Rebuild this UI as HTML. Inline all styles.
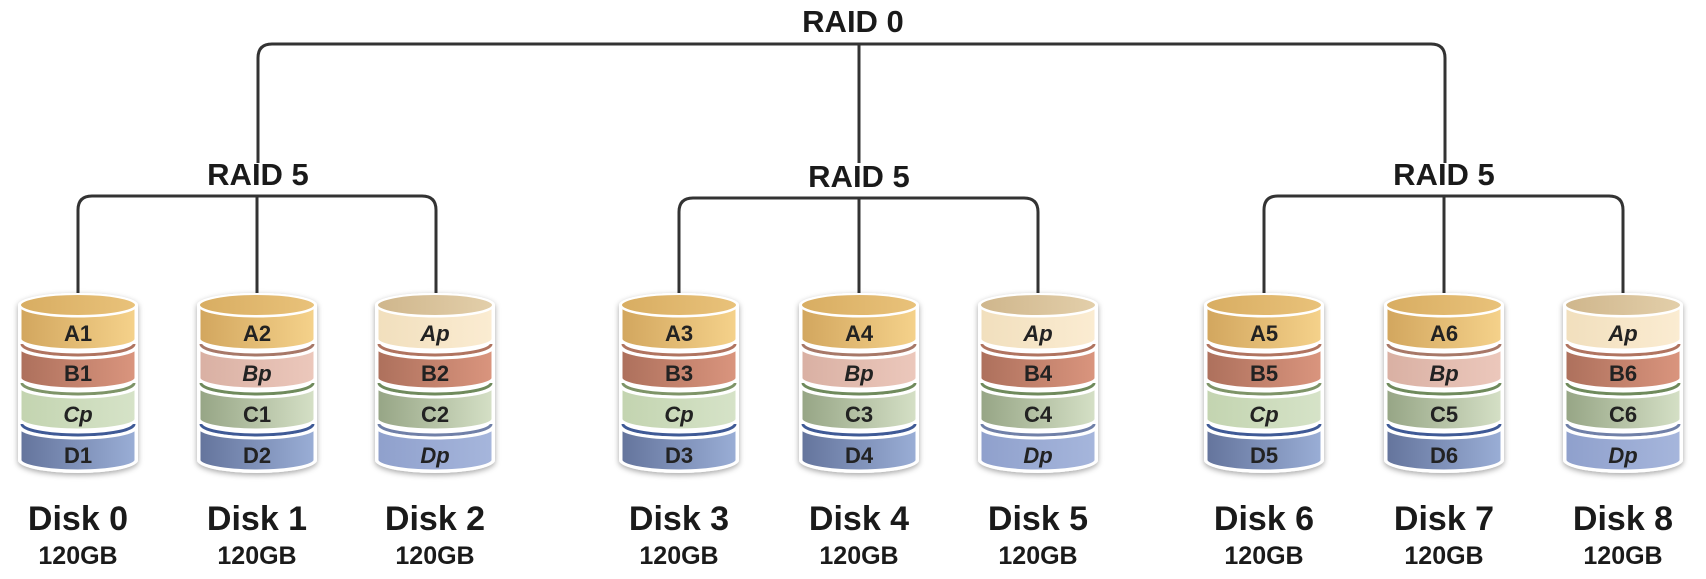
<!DOCTYPE html>
<html><head><meta charset="utf-8"><style>
html,body{margin:0;padding:0;background:#fff;}
svg{display:block;font-family:"Liberation Sans",sans-serif;}
</style></head><body>
<svg width="1706" height="579" viewBox="0 0 1706 579" xmlns="http://www.w3.org/2000/svg">
<defs>
<linearGradient id="gA" x1="0" x2="1"><stop offset="0" stop-color="#d2a65e"/><stop offset="1" stop-color="#f5d28b"/></linearGradient>
<linearGradient id="gAp" x1="0" x2="1"><stop offset="0" stop-color="#f1dfbd"/><stop offset="1" stop-color="#fbecd2"/></linearGradient>
<linearGradient id="gB" x1="0" x2="1"><stop offset="0" stop-color="#ad705c"/><stop offset="1" stop-color="#da957e"/></linearGradient>
<linearGradient id="gBp" x1="0" x2="1"><stop offset="0" stop-color="#d9b0a3"/><stop offset="1" stop-color="#ecc8bc"/></linearGradient>
<linearGradient id="gC" x1="0" x2="1"><stop offset="0" stop-color="#96a585"/><stop offset="1" stop-color="#d5e0c6"/></linearGradient>
<linearGradient id="gCp" x1="0" x2="1"><stop offset="0" stop-color="#c3d4b0"/><stop offset="1" stop-color="#d6e3c8"/></linearGradient>
<linearGradient id="gD" x1="0" x2="1"><stop offset="0" stop-color="#64749c"/><stop offset="1" stop-color="#9aaed6"/></linearGradient>
<linearGradient id="gDp" x1="0" x2="1"><stop offset="0" stop-color="#8fa0cc"/><stop offset="1" stop-color="#a6b6dc"/></linearGradient>
<linearGradient id="gTop" x1="0" x2="1"><stop offset="0" stop-color="#d8ad62"/><stop offset="1" stop-color="#e9c27a"/></linearGradient>
<linearGradient id="gTopP" x1="0" x2="1"><stop offset="0" stop-color="#cfb68c"/><stop offset="1" stop-color="#e3cfaa"/></linearGradient>
<filter id="sh" x="-20%" y="-20%" width="140%" height="140%"><feDropShadow dx="0" dy="2" stdDeviation="3" flood-color="#000" flood-opacity="0.35"/></filter>
<path id="L1" d="M-58,305 A58,11 0 0 0 58,305 L58,339 A58,11 0 0 1 -58,339 Z"/>
<path id="L2" d="M-58,347 A58,11 0 0 0 58,347 L58,378 A58,11 0 0 1 -58,378 Z"/>
<path id="L3" d="M-58,386 A58,11 0 0 0 58,386 L58,419 A58,11 0 0 1 -58,419 Z"/>
<path id="L4" d="M-58,427 A58,11 0 0 0 58,427 L58,460 A58,11 0 0 1 -58,460 Z"/>
<path id="S2" d="M-56,344 A56,11 0 0 0 56,344" fill="none"/>
<path id="S3" d="M-56,383 A56,11 0 0 0 56,383" fill="none"/>
<path id="S4" d="M-56,424 A56,11 0 0 0 56,424" fill="none"/>
<path id="BODY" d="M-60,305 A60,12 0 0 1 60,305 L60,460 A60,13 0 0 1 -60,460 Z" fill="#fff"/>
<ellipse id="TOP" cx="0" cy="305" rx="58" ry="11"/>
<g id="shell"><use href="#BODY" filter="url(#sh)"/></g>
</defs>

<g fill="none" stroke="#333" stroke-width="3">
<path d="M258,163 V58 Q258,44 272,44 H1431 Q1445,44 1445,58 V163"/>
<path d="M859,44 V163"/>
<path d="M78,300 V210 Q78,196 92,196 H422 Q436,196 436,210 V300"/>
<path d="M257,196 V300"/>
<path d="M679,300 V212 Q679,198 693,198 H1024 Q1038,198 1038,212 V300"/>
<path d="M859,198 V300"/>
<path d="M1264,300 V210 Q1264,196 1278,196 H1609 Q1623,196 1623,210 V300"/>
<path d="M1444,196 V300"/>
</g>

<g font-weight="bold" fill="#1a1a1a" text-anchor="middle">
<text x="853" y="32" font-size="31">RAID 0</text>
<text x="258" y="185" font-size="31">RAID 5</text>
<text x="859" y="187" font-size="31">RAID 5</text>
<text x="1444" y="185" font-size="31">RAID 5</text>
</g>

<g transform="translate(78,0)">
<use href="#shell"/>
<use href="#S2" stroke="#b07460" stroke-width="3"/><use href="#S3" stroke="#7e9468" stroke-width="3"/><use href="#S4" stroke="#3f5a96" stroke-width="3"/>
<use href="#L4" fill="url(#gD)" stroke="#fff" stroke-width="3"/>
<use href="#L3" fill="url(#gCp)" stroke="#fff" stroke-width="3"/>
<use href="#L2" fill="url(#gB)" stroke="#fff" stroke-width="3"/>
<use href="#L1" fill="url(#gA)" stroke="#fff" stroke-width="3"/>
<use href="#TOP" fill="url(#gTop)" stroke="#fff" stroke-width="2"/>
</g>
<g transform="translate(679,0)">
<use href="#shell"/>
<use href="#S2" stroke="#b07460" stroke-width="3"/><use href="#S3" stroke="#7e9468" stroke-width="3"/><use href="#S4" stroke="#3f5a96" stroke-width="3"/>
<use href="#L4" fill="url(#gD)" stroke="#fff" stroke-width="3"/>
<use href="#L3" fill="url(#gCp)" stroke="#fff" stroke-width="3"/>
<use href="#L2" fill="url(#gB)" stroke="#fff" stroke-width="3"/>
<use href="#L1" fill="url(#gA)" stroke="#fff" stroke-width="3"/>
<use href="#TOP" fill="url(#gTop)" stroke="#fff" stroke-width="2"/>
</g>
<g transform="translate(1264,0)">
<use href="#shell"/>
<use href="#S2" stroke="#b07460" stroke-width="3"/><use href="#S3" stroke="#7e9468" stroke-width="3"/><use href="#S4" stroke="#3f5a96" stroke-width="3"/>
<use href="#L4" fill="url(#gD)" stroke="#fff" stroke-width="3"/>
<use href="#L3" fill="url(#gCp)" stroke="#fff" stroke-width="3"/>
<use href="#L2" fill="url(#gB)" stroke="#fff" stroke-width="3"/>
<use href="#L1" fill="url(#gA)" stroke="#fff" stroke-width="3"/>
<use href="#TOP" fill="url(#gTop)" stroke="#fff" stroke-width="2"/>
</g>

<g transform="translate(257,0)">
<use href="#shell"/>
<use href="#S2" stroke="#a77868" stroke-width="3"/><use href="#S3" stroke="#6f8a5c" stroke-width="3"/><use href="#S4" stroke="#3f5a96" stroke-width="3"/>
<use href="#L4" fill="url(#gD)" stroke="#fff" stroke-width="3"/>
<use href="#L3" fill="url(#gC)" stroke="#fff" stroke-width="3"/>
<use href="#L2" fill="url(#gBp)" stroke="#fff" stroke-width="3"/>
<use href="#L1" fill="url(#gA)" stroke="#fff" stroke-width="3"/>
<use href="#TOP" fill="url(#gTop)" stroke="#fff" stroke-width="2"/>
</g>
<g transform="translate(859,0)">
<use href="#shell"/>
<use href="#S2" stroke="#a77868" stroke-width="3"/><use href="#S3" stroke="#6f8a5c" stroke-width="3"/><use href="#S4" stroke="#3f5a96" stroke-width="3"/>
<use href="#L4" fill="url(#gD)" stroke="#fff" stroke-width="3"/>
<use href="#L3" fill="url(#gC)" stroke="#fff" stroke-width="3"/>
<use href="#L2" fill="url(#gBp)" stroke="#fff" stroke-width="3"/>
<use href="#L1" fill="url(#gA)" stroke="#fff" stroke-width="3"/>
<use href="#TOP" fill="url(#gTop)" stroke="#fff" stroke-width="2"/>
</g>
<g transform="translate(1444,0)">
<use href="#shell"/>
<use href="#S2" stroke="#a77868" stroke-width="3"/><use href="#S3" stroke="#6f8a5c" stroke-width="3"/><use href="#S4" stroke="#3f5a96" stroke-width="3"/>
<use href="#L4" fill="url(#gD)" stroke="#fff" stroke-width="3"/>
<use href="#L3" fill="url(#gC)" stroke="#fff" stroke-width="3"/>
<use href="#L2" fill="url(#gBp)" stroke="#fff" stroke-width="3"/>
<use href="#L1" fill="url(#gA)" stroke="#fff" stroke-width="3"/>
<use href="#TOP" fill="url(#gTop)" stroke="#fff" stroke-width="2"/>
</g>

<g transform="translate(435,0)">
<use href="#shell"/>
<use href="#S2" stroke="#b07460" stroke-width="3"/><use href="#S3" stroke="#6f8a5c" stroke-width="3"/><use href="#S4" stroke="#7080a8" stroke-width="3"/>
<use href="#L4" fill="url(#gDp)" stroke="#fff" stroke-width="3"/>
<use href="#L3" fill="url(#gC)" stroke="#fff" stroke-width="3"/>
<use href="#L2" fill="url(#gB)" stroke="#fff" stroke-width="3"/>
<use href="#L1" fill="url(#gAp)" stroke="#fff" stroke-width="3"/>
<use href="#TOP" fill="url(#gTopP)" stroke="#fff" stroke-width="2"/>
</g>
<g transform="translate(1038,0)">
<use href="#shell"/>
<use href="#S2" stroke="#b07460" stroke-width="3"/><use href="#S3" stroke="#6f8a5c" stroke-width="3"/><use href="#S4" stroke="#7080a8" stroke-width="3"/>
<use href="#L4" fill="url(#gDp)" stroke="#fff" stroke-width="3"/>
<use href="#L3" fill="url(#gC)" stroke="#fff" stroke-width="3"/>
<use href="#L2" fill="url(#gB)" stroke="#fff" stroke-width="3"/>
<use href="#L1" fill="url(#gAp)" stroke="#fff" stroke-width="3"/>
<use href="#TOP" fill="url(#gTopP)" stroke="#fff" stroke-width="2"/>
</g>
<g transform="translate(1623,0)">
<use href="#shell"/>
<use href="#S2" stroke="#b07460" stroke-width="3"/><use href="#S3" stroke="#6f8a5c" stroke-width="3"/><use href="#S4" stroke="#7080a8" stroke-width="3"/>
<use href="#L4" fill="url(#gDp)" stroke="#fff" stroke-width="3"/>
<use href="#L3" fill="url(#gC)" stroke="#fff" stroke-width="3"/>
<use href="#L2" fill="url(#gB)" stroke="#fff" stroke-width="3"/>
<use href="#L1" fill="url(#gAp)" stroke="#fff" stroke-width="3"/>
<use href="#TOP" fill="url(#gTopP)" stroke="#fff" stroke-width="2"/>
</g>

<g font-weight="bold" font-size="22" fill="#222" text-anchor="middle">
<text x="78" y="341">A1</text><text x="78" y="381">B1</text><text x="78" y="422" font-style="italic">Cp</text><text x="78" y="463">D1</text>
<text x="257" y="341">A2</text><text x="257" y="381" font-style="italic">Bp</text><text x="257" y="422">C1</text><text x="257" y="463">D2</text>
<text x="435" y="341" font-style="italic">Ap</text><text x="435" y="381">B2</text><text x="435" y="422">C2</text><text x="435" y="463" font-style="italic">Dp</text>
<text x="679" y="341">A3</text><text x="679" y="381">B3</text><text x="679" y="422" font-style="italic">Cp</text><text x="679" y="463">D3</text>
<text x="859" y="341">A4</text><text x="859" y="381" font-style="italic">Bp</text><text x="859" y="422">C3</text><text x="859" y="463">D4</text>
<text x="1038" y="341" font-style="italic">Ap</text><text x="1038" y="381">B4</text><text x="1038" y="422">C4</text><text x="1038" y="463" font-style="italic">Dp</text>
<text x="1264" y="341">A5</text><text x="1264" y="381">B5</text><text x="1264" y="422" font-style="italic">Cp</text><text x="1264" y="463">D5</text>
<text x="1444" y="341">A6</text><text x="1444" y="381" font-style="italic">Bp</text><text x="1444" y="422">C5</text><text x="1444" y="463">D6</text>
<text x="1623" y="341" font-style="italic">Ap</text><text x="1623" y="381">B6</text><text x="1623" y="422">C6</text><text x="1623" y="463" font-style="italic">Dp</text>
</g>

<g font-weight="bold" fill="#1a1a1a" text-anchor="middle">
<g font-size="34">
<text x="78" y="530">Disk 0</text><text x="257" y="530">Disk 1</text><text x="435" y="530">Disk 2</text>
<text x="679" y="530">Disk 3</text><text x="859" y="530">Disk 4</text><text x="1038" y="530">Disk 5</text>
<text x="1264" y="530">Disk 6</text><text x="1444" y="530">Disk 7</text><text x="1623" y="530">Disk 8</text>
</g>
<g font-size="25">
<text x="78" y="564">120GB</text><text x="257" y="564">120GB</text><text x="435" y="564">120GB</text>
<text x="679" y="564">120GB</text><text x="859" y="564">120GB</text><text x="1038" y="564">120GB</text>
<text x="1264" y="564">120GB</text><text x="1444" y="564">120GB</text><text x="1623" y="564">120GB</text>
</g>
</g>
</svg>
</body></html>
